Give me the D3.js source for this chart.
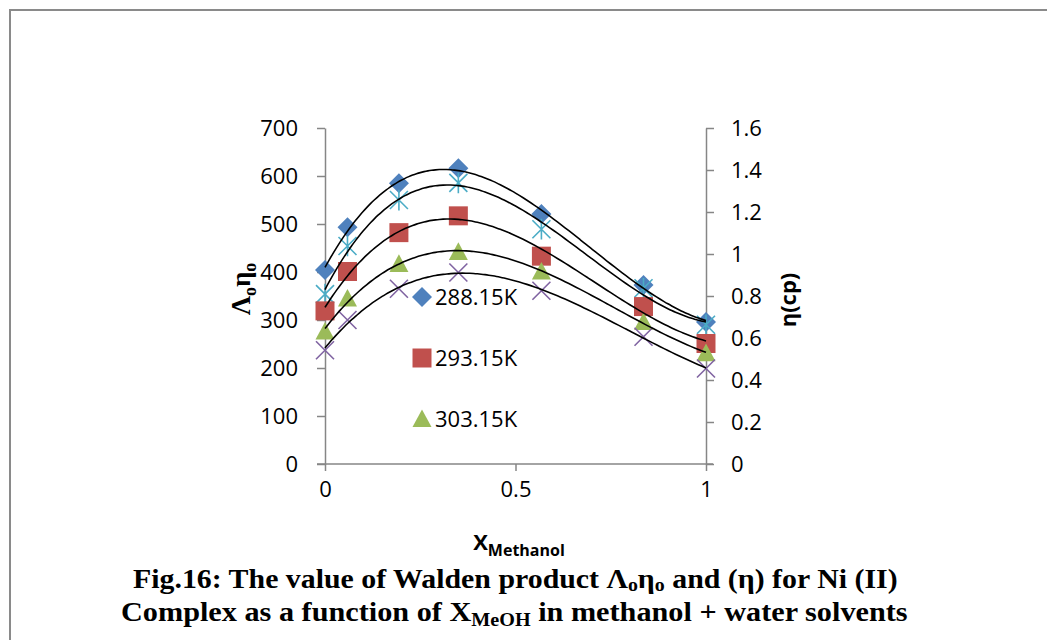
<!DOCTYPE html>
<html>
<head>
<meta charset="utf-8">
<script src="https://cdn.jsdelivr.net/npm/d3@7"></script>
<style>
  body { margin: 0; background: #fff; }
  svg { display: block; }
</style>
</head>
<body>
<svg id="chart" width="1047" height="640"></svg>
<script>
// Mole fraction of methanol in the methanol + water mixtures
const xMethanol = [0, 0.059, 0.194, 0.35, 0.568, 0.836, 1];

// Walden product Λoηo at each temperature
const walden288 = [404, 493, 585, 616, 521, 373, 296];
const walden293 = [319, 401, 482, 517, 433, 328, 251];
const walden303 = [276, 345, 417, 442, 401, 296, 231];
const walden308 = [237, 300, 365, 399, 361, 265, 199];

// Viscosity of the solvent mixtures, η (cp), right axis
const viscosity = [0.809, 1.038, 1.257, 1.339, 1.118, 0.837, 0.663];

const leftTicks = [0, 100, 200, 300, 400, 500, 600, 700];
const rightTicks = [0, 0.2, 0.4, 0.6, 0.8, 1, 1.2, 1.4, 1.6];
const xTicks = [0, 0.5, 1];
const legendLabels = ["288.15K", "293.15K", "303.15K"];

const svg = d3.select("#chart");
const axisColor = "#868686";
const tickFont = "'Open Sans', 'Liberation Sans', sans-serif";
const serifFont = "'Liberation Serif', 'Times New Roman', Times, serif";

// outer frame
svg.append("rect")
  .attr("x", 10).attr("y", 10)
  .attr("width", 1100).attr("height", 700)
  .attr("fill", "none").attr("stroke", "#8a8a8a").attr("stroke-width", 2);

const x = d3.scaleLinear().domain([0, 1]).range([325, 706]);
const yL = d3.scaleLinear().domain([0, 700]).range([464, 128]);
const yR = d3.scaleLinear().domain([0, 1.6]).range([464, 128]);

function styleAxis(g) {
  g.selectAll("path.domain").attr("stroke", axisColor).attr("stroke-width", 1.5);
  g.selectAll(".tick line").attr("stroke", axisColor).attr("stroke-width", 1.5);
  g.selectAll(".tick text")
    .attr("fill", "#000")
    .style("font-family", tickFont)
    .style("font-size", "22px");
}

// axes
svg.append("g").attr("transform", "translate(0,464)")
  .call(d3.axisBottom(x).tickValues(xTicks).tickSize(7).tickSizeOuter(0).tickPadding(10)
    .tickFormat(d3.format("")))
  .call(styleAxis)
  .call(g => g.select("path.domain").attr("d", "M317,0H713"));

svg.append("g").attr("transform", "translate(325,0)")
  .call(d3.axisLeft(yL).tickValues(leftTicks).tickSize(8).tickSizeOuter(0).tickPadding(19))
  .call(styleAxis);

svg.append("g").attr("transform", "translate(706,0)")
  .call(d3.axisRight(yR).tickValues(rightTicks).tickSize(8).tickSizeOuter(0).tickPadding(17)
    .tickFormat(d3.format("")))
  .call(styleAxis);

// marker shapes
const markers = {
  diamond: (s) => `M0,${-s}L${s},0L0,${s}L${-s},0Z`,
  square: (s) => `M${-s},${-s}H${s}V${s}H${-s}Z`,
  triangle: (s) => `M0,${-s}L${s},${s * 0.85}H${-s}Z`,
  cross: (s) => `M${-s},${-s}L${s},${s}M${s},${-s}L${-s},${s}`,
  star: (s) => `M${-s},${-s}L${s},${s}M${s},${-s}L${-s},${s}M0,${-s * 1.15}V${s * 1.15}`
};

const series = [
  { values: walden288, scale: yL, shape: "diamond", size: 10, fill: "#4F81BD", stroke: null },
  { values: viscosity, scale: yR, shape: "star", size: 9, fill: "none", stroke: "#4BACC6" },
  { values: walden293, scale: yL, shape: "square", size: 9.5, fill: "#C0504D", stroke: null },
  { values: walden303, scale: yL, shape: "triangle", size: 9.5, fill: "#9BBB59", stroke: null },
  { values: walden308, scale: yL, shape: "cross", size: 9, fill: "none", stroke: "#8064A2" }
];

// draw points
series.forEach(s => {
  svg.append("g").selectAll("path")
    .data(s.values.map((v, i) => [xMethanol[i], v]))
    .join("path")
    .attr("transform", d => `translate(${x(d[0])},${s.scale(d[1])})`)
    .attr("d", markers[s.shape](s.size))
    .attr("fill", s.fill)
    .attr("stroke", s.stroke || "none")
    .attr("stroke-width", 1.6);
});

// least-squares polynomial trendline
function polyfit(xs, ys, deg) {
  const n = deg + 1;
  const A = Array.from({ length: n }, () => new Array(n + 1).fill(0));
  for (let r = 0; r < n; r++) {
    for (let c = 0; c < n; c++) {
      A[r][c] = d3.sum(xs, xi => Math.pow(xi, r + c));
    }
    A[r][n] = d3.sum(xs.map((xi, i) => Math.pow(xi, r) * ys[i]));
  }
  for (let i = 0; i < n; i++) {
    let p = i;
    for (let k = i + 1; k < n; k++) if (Math.abs(A[k][i]) > Math.abs(A[p][i])) p = k;
    [A[i], A[p]] = [A[p], A[i]];
    for (let k = i + 1; k < n; k++) {
      const f = A[k][i] / A[i][i];
      for (let j = i; j <= n; j++) A[k][j] -= f * A[i][j];
    }
  }
  const coef = new Array(n).fill(0);
  for (let i = n - 1; i >= 0; i--) {
    let s = A[i][n];
    for (let j = i + 1; j < n; j++) s -= A[i][j] * coef[j];
    coef[i] = s / A[i][i];
  }
  return xv => coef.reduce((acc, c, i) => acc + c * Math.pow(xv, i), 0);
}

const grid = d3.range(0, 1.0001, 0.01);
series.forEach(s => {
  const f = polyfit(xMethanol, s.values, 3);
  svg.append("path")
    .datum(grid)
    .attr("fill", "none")
    .attr("stroke", "#000")
    .attr("stroke-width", 1.6)
    .attr("d", d3.line().x(d => x(d)).y(d => s.scale(f(d))).curve(d3.curveMonotoneX));
});

// legend
const legend = svg.append("g");
legendLabels.forEach((lab, i) => {
  const s = series[[0, 2, 3][i]];
  const cy = 297 + i * 61;
  legend.append("path")
    .attr("transform", `translate(422,${cy})`)
    .attr("d", markers[s.shape](s.size))
    .attr("fill", s.fill);
  legend.append("text")
    .attr("x", 435).attr("y", cy).attr("dy", "0.36em")
    .style("font-family", tickFont).style("font-size", "22px")
    .text(lab);
});

// left axis title Λoηo
svg.append("text")
  .attr("transform", "translate(250,289) rotate(-90)")
  .attr("text-anchor", "middle")
  .style("font-family", serifFont)
  .style("font-weight", "bold").style("font-size", "27px")
  .call(t => {
    t.append("tspan").text("Λ");
    t.append("tspan").attr("dy", 6).style("font-size", "18px").text("o");
    t.append("tspan").attr("dy", -6).text("η");
    t.append("tspan").attr("dy", 6).style("font-size", "18px").text("o");
  });

// right axis title
svg.append("text")
  .attr("transform", "translate(796,300) rotate(-90)")
  .attr("text-anchor", "middle")
  .style("font-family", tickFont)
  .style("font-weight", "bold").style("font-size", "22px")
  .text("η(cp)");

// x axis title
svg.append("text")
  .attr("x", 519).attr("y", 550)
  .attr("text-anchor", "middle")
  .style("font-family", tickFont)
  .style("font-weight", "bold").style("font-size", "22px")
  .call(t => {
    t.append("tspan").text("X");
    t.append("tspan").attr("dy", 6).style("font-size", "16px").text("Methanol");
  });

// caption, condensed to fit its line width
function captionLine(y, parts, left, right, sub) {
  const t = svg.append("text")
    .attr("x", 0).attr("y", 0)
    .style("font-family", serifFont)
    .style("font-weight", "bold").style("font-size", "27px");
  parts.forEach(p => {
    const ts = t.append("tspan").text(p.text);
    if (p.sub) ts.attr("dy", sub).style("font-size", "18px");
    if (p.up) ts.attr("dy", -sub);
  });
  const w = t.node().getComputedTextLength();
  const k = (right - left) / w;
  t.attr("transform", `translate(${left},${y}) scale(${k},1)`);
}

captionLine(588, [
  { text: "Fig.16: The value of Walden product Λ" },
  { text: "o", sub: true },
  { text: "η", up: true },
  { text: "o", sub: true },
  { text: " and (η) for Ni (II)", up: true }
], 133, 898, 3);

captionLine(621, [
  { text: "Complex as a function of X" },
  { text: "MeOH", sub: true },
  { text: " in methanol + water solvents", up: true }
], 121, 908, 5);
</script>
</body>
</html>
